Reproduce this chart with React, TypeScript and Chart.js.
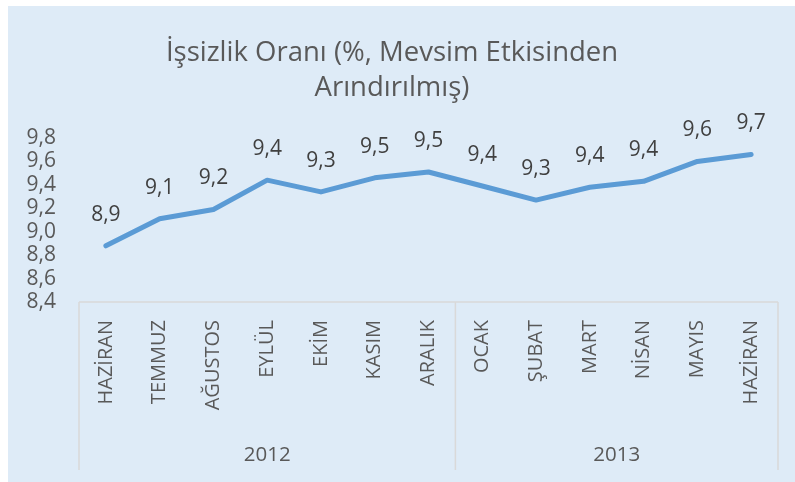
import React, { useEffect, useRef } from "react";
import { Chart, registerables } from "chart.js";

Chart.register(...registerables);

const months = ["HAZİRAN", "TEMMUZ", "AĞUSTOS", "EYLÜL", "EKİM", "KASIM", "ARALIK", "OCAK", "ŞUBAT", "MART", "NİSAN", "MAYIS", "HAZİRAN"];
const years = ["2012", "2013"];
const yearCounts = [7, 6];
const rates = [8.88, 9.11, 9.19, 9.44, 9.34, 9.46, 9.51, 9.39, 9.27, 9.38, 9.43, 9.6, 9.66];
const titleLines = ["İşsizlik Oranı (%, Mevsim Etkisinden", "Arındırılmış)"];

const FONT = "'Open Sans', sans-serif";

const fmt = (v: number) => (Math.round(v * 10) / 10).toFixed(1).replace(".", ",");

const overlayPlugin = {
  id: "overlay",
  afterDraw(chart: any) {
    const ctx = chart.ctx;
    const xs = chart.scales.x;
    const area = chart.chartArea;
    // title
    ctx.save();
    ctx.fillStyle = "#595959";
    ctx.font = `27.5px ${FONT}`;
    ctx.textAlign = "center";
    ctx.textBaseline = "middle";
    ctx.fillText(titleLines[0], 384, 47);
    ctx.fillText(titleLines[1], 384, 82);
    ctx.restore();

    // x axis lines and groups
    const bottom = 464;
    ctx.save();
    ctx.strokeStyle = "#D9D9D9";
    ctx.lineWidth = 1.5;
    ctx.beginPath();
    ctx.moveTo(area.left, area.bottom);
    ctx.lineTo(area.right, area.bottom);
    const bounds: number[] = [area.left];
    let idx = 0;
    for (let g = 0; g < yearCounts.length; g++) {
      idx += yearCounts[g];
      if (idx < months.length) {
        bounds.push((xs.getPixelForValue(idx - 1) + xs.getPixelForValue(idx)) / 2);
      } else {
        bounds.push(area.right);
      }
    }
    for (const b of bounds) {
      ctx.moveTo(b, area.bottom);
      ctx.lineTo(b, bottom);
    }
    ctx.stroke();
    ctx.fillStyle = "#595959";
    ctx.font = `20.5px ${FONT}`;
    ctx.textAlign = "center";
    ctx.textBaseline = "middle";
    for (let g = 0; g < years.length; g++) {
      ctx.fillText(years[g], (bounds[g] + bounds[g + 1]) / 2, 449);
    }
    ctx.restore();

    // data labels
    const meta = chart.getDatasetMeta(0);
    ctx.save();
    ctx.fillStyle = "#404040";
    ctx.font = `21px ${FONT}`;
    ctx.textAlign = "center";
    ctx.textBaseline = "middle";
    meta.data.forEach((pt: any, i: number) => {
      ctx.fillText(fmt(rates[i]), pt.x, pt.y - 31);
    });
    ctx.restore();
  },
};

export default function App() {
  const ref = useRef<HTMLCanvasElement | null>(null);
  useEffect(() => {
    if (!ref.current) return;
    const chart = new Chart(ref.current, {
      type: "line",
      data: {
        labels: months,
        datasets: [
          {
            data: rates,
            borderColor: "#5B9BD5",
            borderWidth: 5,
            pointRadius: 0,
            tension: 0,
            borderCapStyle: "round",
            borderJoinStyle: "round",
          },
        ],
      },
      options: {
        animation: false,
        responsive: false,
        maintainAspectRatio: false,
        layout: { padding: { top: 132, right: 17, bottom: 0, left: 0 } },
        plugins: { legend: { display: false }, tooltip: { enabled: false }, title: { display: false } },
        scales: {
          x: {
            type: "category",
            offset: true,
            grid: { display: false, drawTicks: false },
            border: { display: false },
            ticks: {
              autoSkip: false,
              maxRotation: 90,
              minRotation: 90,
              padding: 18,
              color: "#595959",
              font: { family: FONT, size: 20 },
            },
            afterFit: (s: any) => {
              s.height = 180;
            },
          },
          y: {
            min: 8.4,
            max: 9.8,
            grid: { display: false, drawTicks: false },
            border: { display: false },
            ticks: {
              autoSkip: false,
              stepSize: 0.2,
              padding: 23,
              color: "#595959",
              font: { family: FONT, size: 21 },
              callback: (v: any) => fmt(Number(v)),
            },
            afterFit: (s: any) => {
              s.width = 71;
            },
          },
        },
      },
      plugins: [overlayPlugin],
    });
    return () => chart.destroy();
  }, []);
  return (
    <div style={{ position: "absolute", left: 8, top: 6, width: 787, height: 476, background: "#DEEBF7" }}>
      <canvas ref={ref} width={787} height={476} style={{ display: "block" }} />
    </div>
  );
}
